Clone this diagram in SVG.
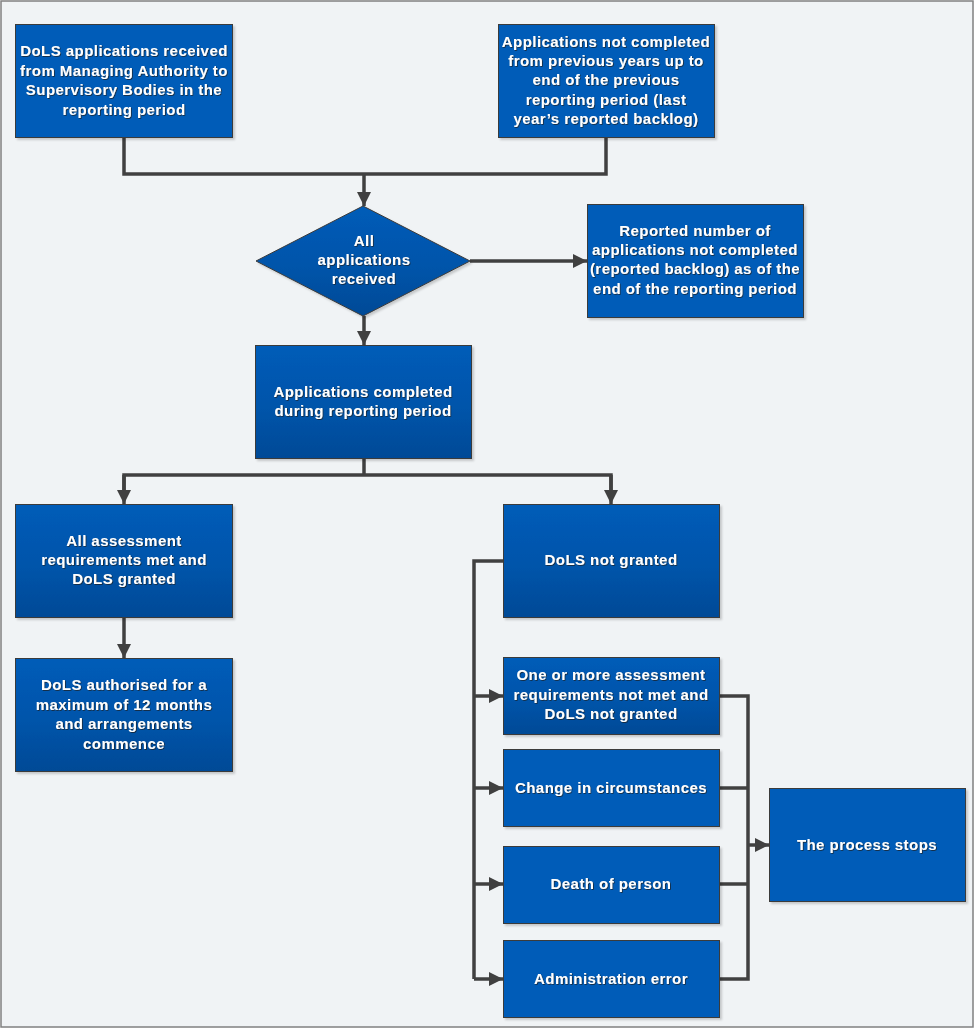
<svg xmlns="http://www.w3.org/2000/svg" width="976" height="1030" viewBox="0 0 976 1030">
<style>
.box{stroke:#3a3a3a;stroke-width:1;filter:url(#bs)}
.flat{fill:#005cb8}
.grad{fill:url(#g)}
.t{font-family:"Liberation Sans",Arial,sans-serif;font-weight:bold;font-size:15px;letter-spacing:0.45px;fill:#ffffff;text-anchor:middle;filter:url(#ts)}
.c{fill:none;stroke:#404040;stroke-width:3.5;stroke-linejoin:miter}
</style>
<defs>
<linearGradient id="g" x1="0" y1="0" x2="0" y2="1">
<stop offset="0" stop-color="#005cb8"/>
<stop offset="0.55" stop-color="#0054aa"/>
<stop offset="1" stop-color="#034a96"/>
</linearGradient>
<filter id="bs" x="-5%" y="-5%" width="112%" height="115%">
<feDropShadow dx="2" dy="2" stdDeviation="1" flood-color="#000" flood-opacity="0.18"/>
</filter>
<filter id="ts" x="-5%" y="-20%" width="110%" height="150%">
<feDropShadow dx="0.8" dy="0.8" stdDeviation="0.2" flood-color="#1a1a1a" flood-opacity="0.85"/>
</filter>
<marker id="a" viewBox="0 0 10 10" refX="10" refY="5" markerWidth="4" markerHeight="4" orient="auto" markerUnits="strokeWidth">
<path d="M0,0 L10,5 L0,10 z" fill="#404040"/>
</marker>
</defs>
<rect x="1" y="1" width="972" height="1026" fill="#f0f3f5" stroke="#808080" stroke-width="1.5"/>

<g id="connectors">
<polyline class="c" points="124,138 124,174 606,174 606,138"/>
<line class="c" x1="364" y1="174" x2="364" y2="206" marker-end="url(#a)"/>
<line class="c" x1="470" y1="261" x2="587" y2="261" marker-end="url(#a)"/>
<line class="c" x1="364" y1="316" x2="364" y2="345" marker-end="url(#a)"/>
<line class="c" x1="364" y1="459" x2="364" y2="475"/>
<polyline class="c" points="124,490 124,475 611,475 611,490"/>
<line class="c" x1="124" y1="475" x2="124" y2="504" marker-end="url(#a)"/>
<line class="c" x1="611" y1="475" x2="611" y2="504" marker-end="url(#a)"/>
<line class="c" x1="124" y1="618" x2="124" y2="658" marker-end="url(#a)"/>
<polyline class="c" points="503,561 474,561 474,979"/>
<line class="c" x1="474" y1="696" x2="503" y2="696" marker-end="url(#a)"/>
<line class="c" x1="474" y1="788" x2="503" y2="788" marker-end="url(#a)"/>
<line class="c" x1="474" y1="884" x2="503" y2="884" marker-end="url(#a)"/>
<line class="c" x1="474" y1="979" x2="503" y2="979" marker-end="url(#a)"/>
<polyline class="c" points="720,696 748,696 748,979 720,979"/>
<line class="c" x1="720" y1="788" x2="748" y2="788"/>
<line class="c" x1="720" y1="884" x2="748" y2="884"/>
<line class="c" x1="748" y1="845" x2="769" y2="845" marker-end="url(#a)"/>
</g>

<g id="n1"><rect class="box flat" x="15.5" y="24.5" width="217" height="113"/>
<text class="t"><tspan x="124" y="56">DoLS applications received</tspan><tspan x="124" y="76">from Managing Authority to</tspan><tspan x="124" y="95">Supervisory Bodies in the</tspan><tspan x="124" y="115">reporting period</tspan></text></g>

<g id="n2"><rect class="box flat" x="498.5" y="24.5" width="216" height="113"/>
<text class="t"><tspan x="606" y="47">Applications not completed</tspan><tspan x="606" y="66">from previous years up to</tspan><tspan x="606" y="85">end of the previous</tspan><tspan x="606" y="105">reporting period (last</tspan><tspan x="606" y="124">year’s reported backlog)</tspan></text></g>

<g id="n3"><polygon class="box grad" points="363,206 470,261 363,316 256,261"/>
<text class="t"><tspan x="364" y="246">All</tspan><tspan x="364" y="265">applications</tspan><tspan x="364" y="284">received</tspan></text></g>

<g id="n4"><rect class="box flat" x="587.5" y="204.5" width="216" height="113"/>
<text class="t"><tspan x="695" y="236">Reported number of</tspan><tspan x="695" y="255">applications not completed</tspan><tspan x="695" y="274">(reported backlog) as of the</tspan><tspan x="695" y="294">end of the reporting period</tspan></text></g>

<g id="n5"><rect class="box grad" x="255.5" y="345.5" width="216" height="113"/>
<text class="t"><tspan x="363" y="397">Applications completed</tspan><tspan x="363" y="416">during reporting period</tspan></text></g>

<g id="n6"><rect class="box grad" x="15.5" y="504.5" width="217" height="113"/>
<text class="t"><tspan x="124" y="546">All assessment</tspan><tspan x="124" y="565">requirements met and</tspan><tspan x="124" y="584">DoLS granted</tspan></text></g>

<g id="n7"><rect class="box grad" x="503.5" y="504.5" width="216" height="113"/>
<text class="t"><tspan x="611" y="565">DoLS not granted</tspan></text></g>

<g id="n8"><rect class="box grad" x="15.5" y="658.5" width="217" height="113"/>
<text class="t"><tspan x="124" y="690">DoLS authorised for a</tspan><tspan x="124" y="710">maximum of 12 months</tspan><tspan x="124" y="729">and arrangements</tspan><tspan x="124" y="749">commence</tspan></text></g>

<g id="n9"><rect class="box grad" x="503.5" y="657.5" width="216" height="77"/>
<text class="t"><tspan x="611" y="680">One or more assessment</tspan><tspan x="611" y="700">requirements not met and</tspan><tspan x="611" y="719">DoLS not granted</tspan></text></g>

<g id="n10"><rect class="box flat" x="503.5" y="749.5" width="216" height="77"/>
<text class="t"><tspan x="611" y="793">Change in circumstances</tspan></text></g>

<g id="n11"><rect class="box flat" x="503.5" y="846.5" width="216" height="77"/>
<text class="t"><tspan x="611" y="889">Death of person</tspan></text></g>

<g id="n12"><rect class="box flat" x="503.5" y="940.5" width="216" height="77"/>
<text class="t"><tspan x="611" y="984">Administration error</tspan></text></g>

<g id="n13"><rect class="box flat" x="769.5" y="788.5" width="196" height="113"/>
<text class="t"><tspan x="867" y="850">The process stops</tspan></text></g>
</svg>
